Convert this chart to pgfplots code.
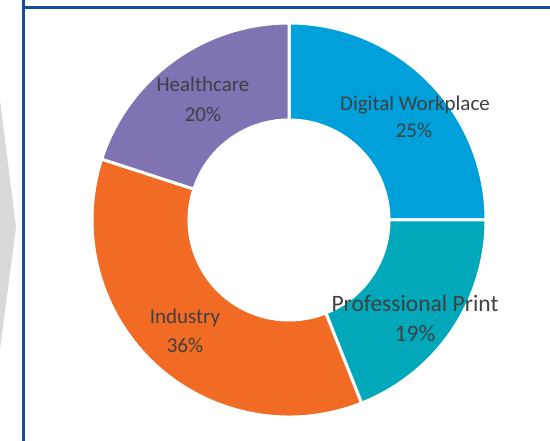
\documentclass[border=0pt]{standalone}
\usepackage{pgfplots}
\usepackage{pgfplotstable}
\usepackage{fontspec}
\setmainfont{Carlito}
\pgfplotsset{compat=1.18}
\definecolor{cBlue}{RGB}{0,161,219}
\definecolor{cTeal}{RGB}{0,168,186}
\definecolor{cOrange}{RGB}{242,107,36}
\definecolor{cPurple}{RGB}{127,115,180}
\definecolor{cText}{RGB}{64,64,64}
\definecolor{cBorder}{RGB}{14,78,157}
\definecolor{cGrey}{RGB}{217,217,217}
\pgfplotstableread{
idx pct col
0 25 cBlue
1 19 cTeal
2 36 cOrange
3 20 cPurple
}\datatable
\begin{document}
\begin{tikzpicture}
\begin{axis}[at={(0,0)},anchor=south west,width=550pt,height=441pt,scale only axis,
  xmin=0,xmax=550,ymin=0,ymax=441,hide axis,disabledatascaling,clip=true]
% grey arrow
\fill[cGrey] (axis cs:-30,341) -- (axis cs:0,341) -- (axis cs:16,214) -- (axis cs:0,91) -- (axis cs:-30,91) -- cycle;
% border
\draw[cBorder,line width=3pt] (axis cs:23.5,700) -- (axis cs:23.5,433.5) -- (axis cs:700,433.5);
\draw[cBorder,line width=3pt] (axis cs:23.5,433.5) -- (axis cs:23.5,-50);
% slices
\gdef\sa{90}
\pgfplotsforeachungrouped \i in {0,...,3}{%
  \pgfplotstablegetelem{\i}{pct}\of\datatable
  \pgfmathsetmacro\ea{\sa-3.6*\pgfplotsretval}%
  \pgfplotstablegetelem{\i}{col}\of\datatable
  \let\cc\pgfplotsretval
  \edef\temp{\noexpand\filldraw[fill=\cc,draw=white,line width=3pt,line join=round]
    ({289+197*cos(\sa)},{221+197*sin(\sa)}) arc[start angle=\sa,end angle=\ea,radius=197]
    -- ({289+100*cos(\ea)},{221+100*sin(\ea)}) arc[start angle=\ea,end angle=\sa,radius=100] -- cycle;}%
  \temp
  \global\let\sa\ea
}
% labels
\tikzset{lab/.style={anchor=base,text=cText,inner sep=0pt,font=\fontsize{21}{25}\selectfont}}
\node[lab] at (axis cs:415,330) {Digital Workplace};
\node[lab] at (axis cs:414,303) {25\%};
\node[lab,font=\fontsize{23.5}{28}\selectfont] at (axis cs:415,129) {Professional Print};
\node[lab,font=\fontsize{23.5}{28}\selectfont] at (axis cs:415,99) {19\%};
\node[lab] at (axis cs:185,117) {Industry};
\node[lab] at (axis cs:185,88) {36\%};
\node[lab] at (axis cs:203,349) {Healthcare};
\node[lab] at (axis cs:203,319) {20\%};
\end{axis}
\end{tikzpicture}
\end{document}
